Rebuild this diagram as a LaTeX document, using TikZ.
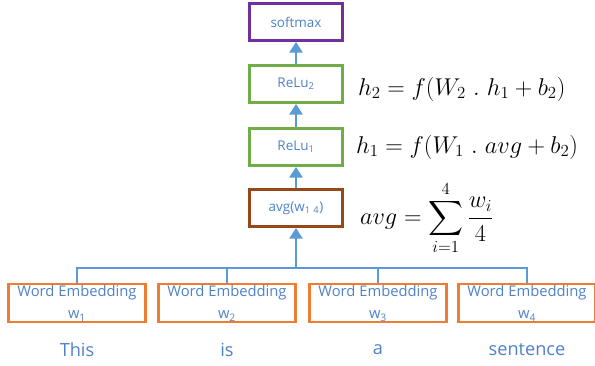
\documentclass[tikz,border=0pt]{standalone}
\usepackage{amsmath}
\usepackage{fontspec}
\usetikzlibrary{arrows.meta}
\newfontfamily\uifont{Open Sans}
\definecolor{linkblue}{RGB}{91, 155, 213}
\definecolor{textblue}{RGB}{79, 129, 199}
\definecolor{embedorange}{RGB}{237, 125, 49}
\definecolor{layergreen}{RGB}{112, 173, 71}
\definecolor{outpurple}{RGB}{112, 48, 160}
\definecolor{avgbrown}{RGB}{150, 72, 24}
\tikzset{
  layerbox/.style={draw, line width=2.2pt, minimum width=2.8cm, minimum height=1.12cm,
    inner sep=0pt, text=textblue, font=\uifont\fontsize{11.5}{14}\selectfont},
  embedbox/.style={draw=embedorange, line width=2.2pt, minimum width=4.1cm, minimum height=1.15cm,
    inner sep=0pt, align=center, text=textblue, font=\uifont\fontsize{12.6}{19}\selectfont},
  wordlabel/.style={text=textblue, font=\uifont\fontsize{15.5}{18}\selectfont},
  uparrow/.style={draw=linkblue, line width=2pt, -{Triangle[width=11pt,length=9pt]}},
  busline/.style={draw=linkblue, line width=2pt},
  eqn/.style={anchor=west, font=\fontsize{20.5}{24}\selectfont}
}
\begin{document}
\begin{tikzpicture}[x=0.03cm, y=-0.03cm]
        \useasboundingbox (0, 0) rectangle (595, 365);

        % ---- LAYERS ----
        \node[layerbox, draw=outpurple]  (soft)  at (296, 22)  {softmax};
        \node[layerbox, draw=layergreen] (relu2) at (296, 84)  {ReLu\textsubscript{2}};
        \node[layerbox, draw=layergreen] (relu1) at (296, 147) {ReLu\textsubscript{1}};
        \node[layerbox, draw=avgbrown]   (avg)   at (296, 208) {avg(w\textsubscript{1\,\,4})};

        \draw[uparrow] (relu2) -- (soft);
        \draw[uparrow] (relu1) -- (relu2);
        \draw[uparrow] (avg) -- (relu1);

        % ---- EQUATIONS ----
        \node[eqn] (eq2) at (354, 89)  {$h_2 = f(W_2\ .\ h_1 + b_2)$};
        \node[eqn] (eq1) at (352, 147) {$h_1 = f(W_1\ .\ avg + b_2)$};
        \node[eqn] (eq0) at (356, 218) {$\displaystyle avg = \sum_{i=1}^{4} \frac{w_i}{4}$};

        % ---- WORD EMBEDDINGS ----
        \node[embedbox] (emb1) at (77, 303)  {Word Embedding\\w\textsubscript{1}};
        \node[embedbox] (emb2) at (227, 303) {Word Embedding\\w\textsubscript{2}};
        \node[embedbox] (emb3) at (378, 303) {Word Embedding\\w\textsubscript{3}};
        \node[embedbox] (emb4) at (527, 303) {Word Embedding\\w\textsubscript{4}};

        \node[wordlabel] (word1) at (77, 350)  {This};
        \node[wordlabel] (word2) at (227, 350) {is};
        \node[wordlabel] (word3) at (378, 350) {a};
        \node[wordlabel] (word4) at (527, 350) {sentence};

        % ---- BUS ----
        \coordinate (bus) at (296, 268);
        \draw[busline] (emb1.north) |- (bus) -| (emb4.north);
        \draw[busline] (emb2.north) -- (emb2.north |- bus);
        \draw[busline] (emb3.north) -- (emb3.north |- bus);
        \draw[uparrow] (bus) -- (avg);
      \end{tikzpicture}
\end{document}
